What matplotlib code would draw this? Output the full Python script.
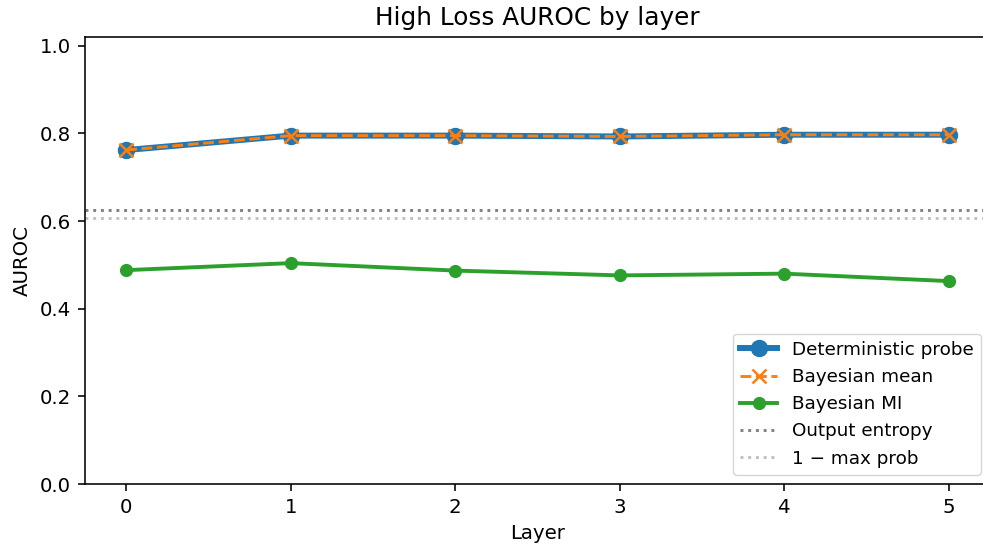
import matplotlib
matplotlib.use("Agg")
import matplotlib.pyplot as plt

layers = [0, 1, 2, 3, 4, 5]
deterministic = [0.762, 0.795, 0.795, 0.793, 0.797, 0.797]
bayes_mean = [0.762, 0.795, 0.795, 0.793, 0.797, 0.797]
bayes_mi = [0.488, 0.504, 0.487, 0.476, 0.480, 0.463]
output_entropy = 0.626
one_minus_maxprob = 0.608

W, H = 983, 547
fig = plt.figure(figsize=(W / 100, H / 100), dpi=100)
ax = fig.add_axes([85 / W, 1 - 484 / H, (990 - 85) / W, (484 - 37) / H])
for s in ax.spines.values():
    s.set_linewidth(1.15)

ax.plot(layers, deterministic, "-o", color="#1f77b4", lw=4.3, ms=11.5, label="Deterministic probe")
ax.plot(layers, bayes_mean, "--x", color="#ff7f0e", lw=2.1, ms=10.5, mew=1.8, label="Bayesian mean")
ax.plot(layers, bayes_mi, "-o", color="#2ca02c", lw=2.8, ms=8.5, label="Bayesian MI")
ax.axhline(output_entropy, color="gray", ls=":", lw=2.1, label="Output entropy")
ax.axhline(one_minus_maxprob, color="silver", ls=":", lw=2.1, label="1 \u2212 max prob")

ax.set_xlim(-0.25, 5.25)
ax.set_ylim(0, 1.02)
ax.set_xticks(layers)
ax.tick_params(labelsize=14.2, length=5, width=1.15, pad=5)
ax.set_xlabel("Layer", fontsize=14.2, labelpad=5)
ax.set_ylabel("AUROC", fontsize=14.2, labelpad=6)
ax.set_title("High Loss AUROC by layer", fontsize=17.8, pad=9)
ax.legend(loc="lower right", fontsize=13.2)

fig.savefig("out.png", dpi=100)
